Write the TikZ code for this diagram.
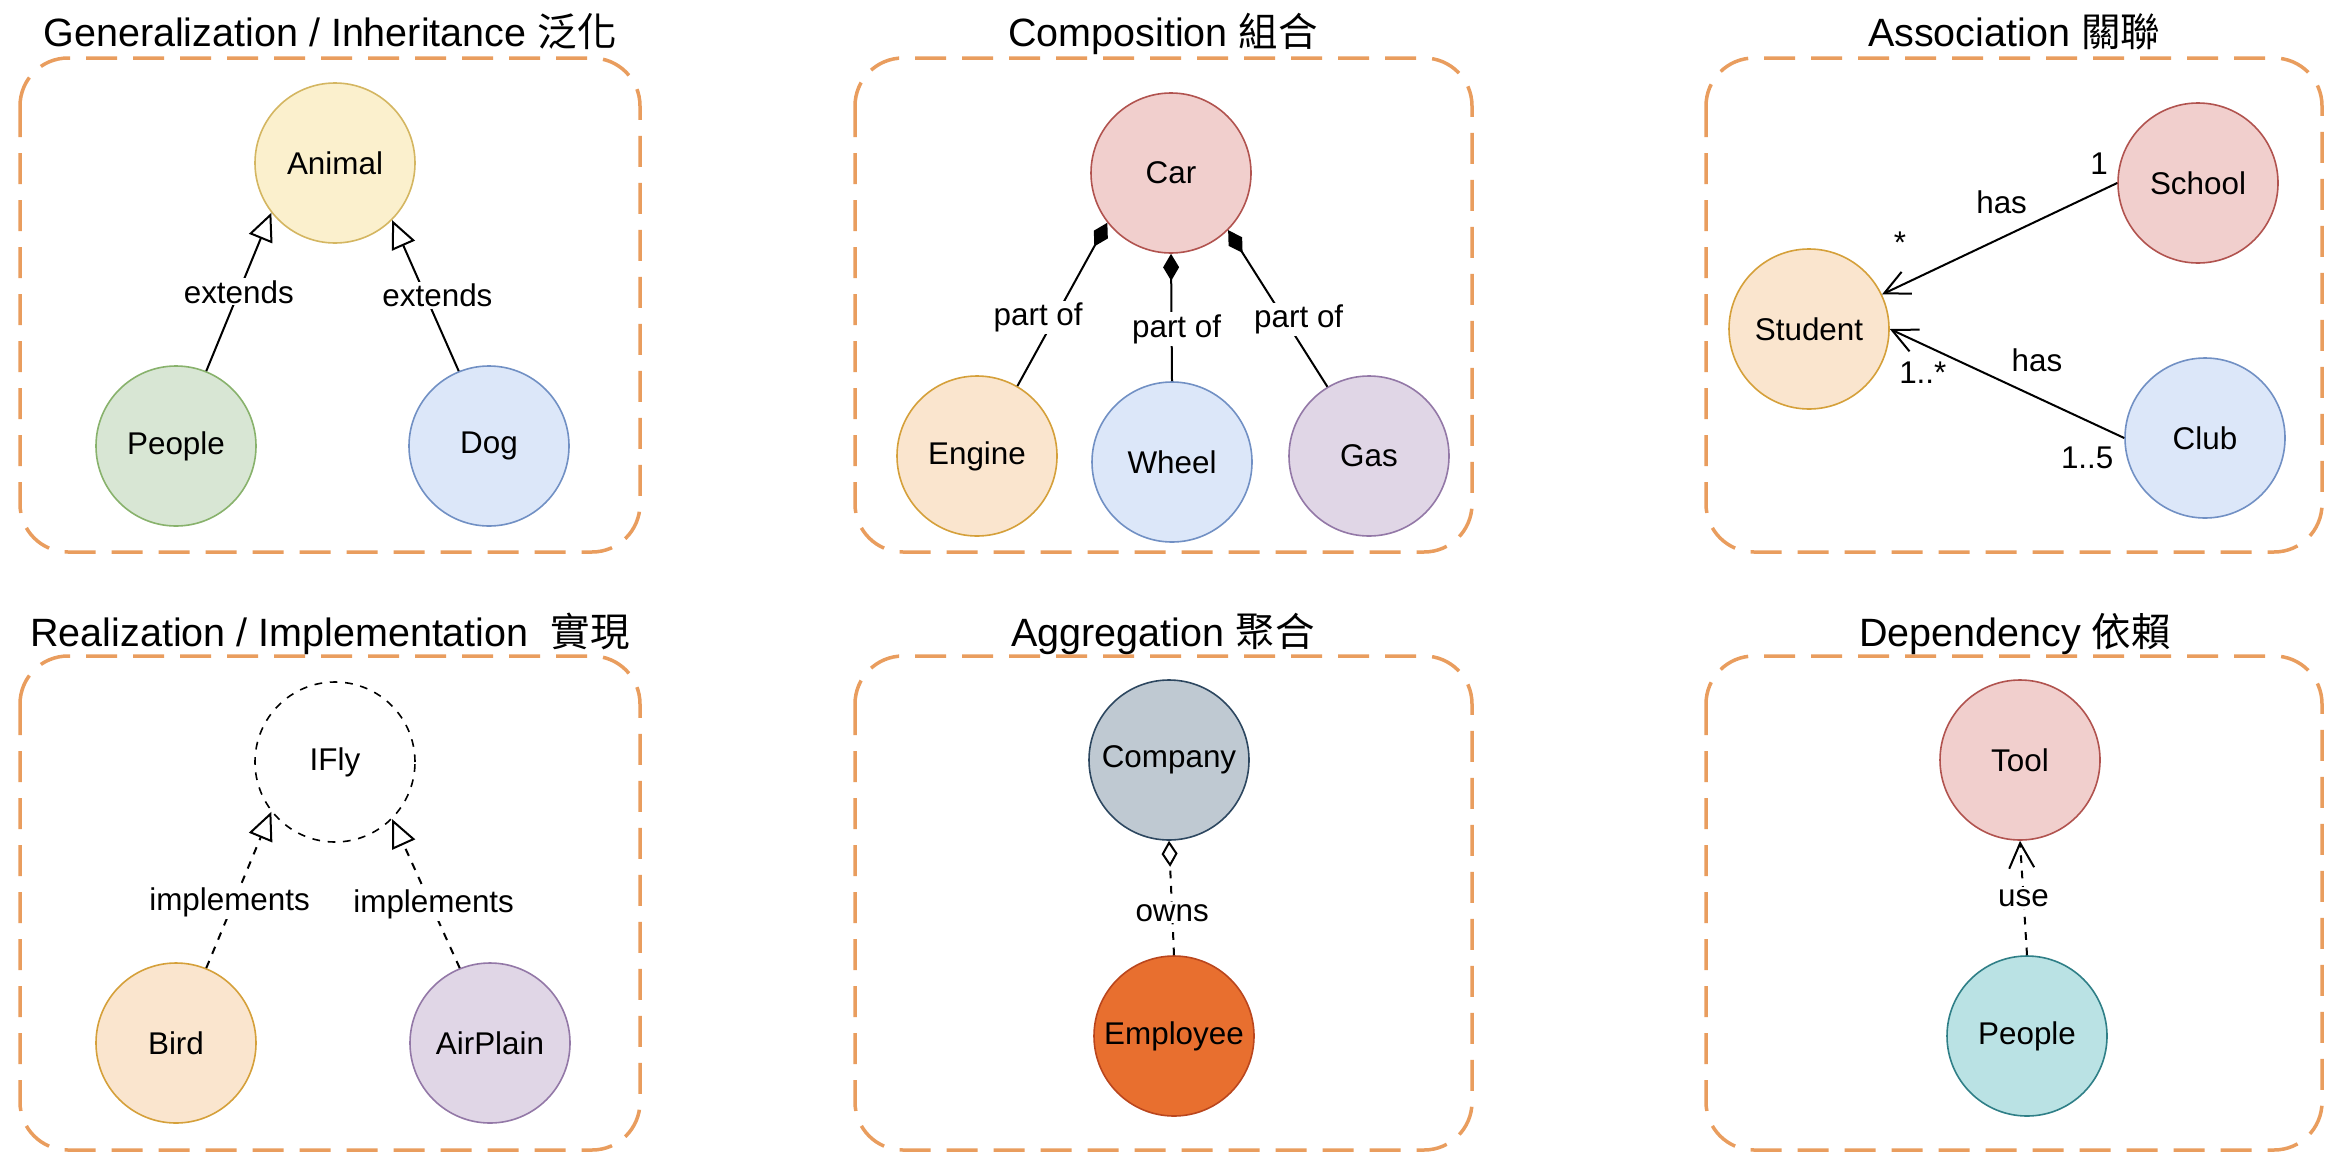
\documentclass[tikz,border=0pt]{standalone}
\usepackage{fontspec}
\setmainfont{Liberation Sans}
\newfontfamily\cjkfont{Noto Sans CJK TC}
\usetikzlibrary{arrows.meta}
\newcommand\ndfont{\fontsize{31.4pt}{37pt}\selectfont}
\newcommand\ttlfont{\fontsize{39.5pt}{46pt}\selectfont}
\definecolor{boxc}{HTML}{E99D5E}
\definecolor{yelF}{HTML}{FBF0CD}\definecolor{yelD}{HTML}{D4B661}
\definecolor{grnF}{HTML}{D8E6D4}\definecolor{grnD}{HTML}{88B26C}
\definecolor{bluF}{HTML}{DCE7F9}\definecolor{bluD}{HTML}{7190C4}
\definecolor{redF}{HTML}{F1CFCD}\definecolor{redD}{HTML}{B1534F}
\definecolor{orgF}{HTML}{FAE5CE}\definecolor{orgD}{HTML}{D5A03A}
\definecolor{purF}{HTML}{E0D6E6}\definecolor{purD}{HTML}{9378A7}
\definecolor{gryF}{HTML}{BFC9D2}\definecolor{gryD}{HTML}{2D4760}
\definecolor{empF}{HTML}{E86F2F}\definecolor{empD}{HTML}{BA461D}
\definecolor{cyaF}{HTML}{BAE2E4}\definecolor{cyaD}{HTML}{2F7F87}
\begin{document}
\begin{tikzpicture}[x=1pt,y=-1pt,
  cls/.style={circle, line width=1.6pt, minimum size=160pt, inner sep=0pt, font=\ndfont},
  frame/.style={draw=boxc, line width=3.5pt, dash pattern=on 31pt off 16pt, rounded corners=48pt},
  ttl/.style={anchor=base, inner sep=0pt, font=\ttlfont},
  lbl/.style={fill=white, inner sep=2pt, font=\ndfont},
  lblp/.style={inner sep=0pt, font=\ndfont},
  dsh/.style={dash pattern=on 7.7pt off 7.7pt},
  gen/.style={line width=2pt, -{Triangle[open, length=28pt, width=25pt, line width=2pt]}},
  real/.style={line width=2pt, dsh, -{Triangle[open, length=28pt, width=25pt, line width=2pt]}},
  comp/.style={line width=2pt, -{Diamond[length=27pt, width=16pt]}},
  aggr/.style={line width=2pt, dsh, -{Diamond[open, length=26pt, width=16pt, line width=2pt]}},
  assoc/.style={line width=2pt, -{Straight Barb[length=25pt, width=24pt, line width=2pt]}},
  dep/.style={line width=2pt, dsh, -{Straight Barb[length=25pt, width=25pt, line width=2pt]}}
]
\useasboundingbox (0,0) rectangle (2342,1170);
\fill[white] (0,0) rectangle (2342,1170);

% frames
\draw[frame] (20,58) rectangle (640,552);
\draw[frame] (855,58) rectangle (1472,552);
\draw[frame] (1706,58) rectangle (2322,552);
\draw[frame] (20,656) rectangle (640,1150);
\draw[frame] (855,656) rectangle (1472,1150);
\draw[frame] (1706,656) rectangle (2322,1150);

% titles
\node[ttl] (t1) at (330,46) {Generalization / Inheritance {\cjkfont 泛化}};
\node[ttl] (t2) at (1163,46) {Composition {\cjkfont 組合}};
\node[ttl] (t3) at (2014,46) {Association {\cjkfont 關聯}};
\node[ttl] (t4) at (330,646) {Realization / Implementation\ \ {\cjkfont 實現}};
\node[ttl] (t5) at (1163,646) {Aggregation {\cjkfont 聚合}};
\node[ttl] (t6) at (2015,646) {Dependency {\cjkfont 依賴}};

% Panel 1: generalization
\node[cls, fill=yelF, draw=yelD] (animal) at (335,163) {Animal};
\node[cls, fill=grnF, draw=grnD] (people1) at (176,446) {People};
\node[cls, fill=bluF, draw=bluD] (dog) at (489,446) {Dog};
\draw[gen] (people1.68) -- node[lbl] {extends} (animal.218);
\draw[gen] (dog.112) -- node[lbl, xshift=12pt] {extends} (animal.-45);

% Panel 2: composition
\node[cls, fill=redF, draw=redD] (car) at (1171,173) {Car};
\node[cls, fill=orgF, draw=orgD] (engine) at (977,456) {Engine};
\node[cls, fill=bluF, draw=bluD] (wheel) at (1172,462) {Wheel};
\node[cls, fill=purF, draw=purD] (gas) at (1369,456) {Gas};
\draw[comp] (engine.60) -- node[lbl, pos=0.42, xshift=-17pt] {part of} (car.218);
\draw[comp] (wheel.north) -- node[lbl, pos=0.41, xshift=5pt] {part of} (car.south);
\draw[comp] (gas.121) -- node[lbl, pos=0.43, xshift=14pt] {part of} (car.-45);

% Panel 3: association
\node[cls, fill=redF, draw=redD] (school) at (2198,183) {School};
\node[cls, fill=orgF, draw=orgD] (student) at (1809,329) {Student};
\node[cls, fill=bluF, draw=bluD] (club) at (2205,438) {Club};
\draw[assoc] (school.west) -- node[lblp, xshift=2pt, yshift=36pt] {has}
  node[lblp, at start, xshift=-18pt, yshift=19pt] {1}
  node[lblp, at end, xshift=18pt, yshift=52pt] {*} (student);
\draw[assoc] (club.west) -- node[lblp, xshift=30pt, yshift=23pt] {has}
  node[lblp, at start, xshift=-37pt, yshift=-20pt] {1..5}
  node[lblp, at end, xshift=33pt, yshift=-44pt] {1..*} (student.east);

% Panel 4: realization
\node[cls, fill=white, draw=black, dsh] (ifly) at (335,762) {IFly};
\node[cls, fill=orgF, draw=orgD] (bird) at (176,1043) {Bird};
\node[cls, fill=purF, draw=purD] (airplain) at (490,1043) {AirPlain};
\draw[real] (bird.68) -- node[lbl, pos=0.42, xshift=-4pt] {implements} (ifly.218);
\draw[real] (airplain.112) -- node[lbl, pos=0.43, xshift=3pt] {implements} (ifly.-45);

% Panel 5: aggregation
\node[cls, fill=gryF, draw=gryD] (company) at (1169,760) {Company};
\node[cls, fill=empF, draw=empD] (employee) at (1174,1036) {Employee};
\draw[aggr] (employee.north) -- node[lbl, pos=0.37] {owns} (company.south);

% Panel 6: dependency
\node[cls, fill=redF, draw=redD] (tool) at (2020,760) {Tool};
\node[cls, fill=cyaF, draw=cyaD] (people2) at (2027,1036) {People};
\draw[dep] (people2.north) -- node[lbl] {use} (tool.south);
\end{tikzpicture}
\end{document}
